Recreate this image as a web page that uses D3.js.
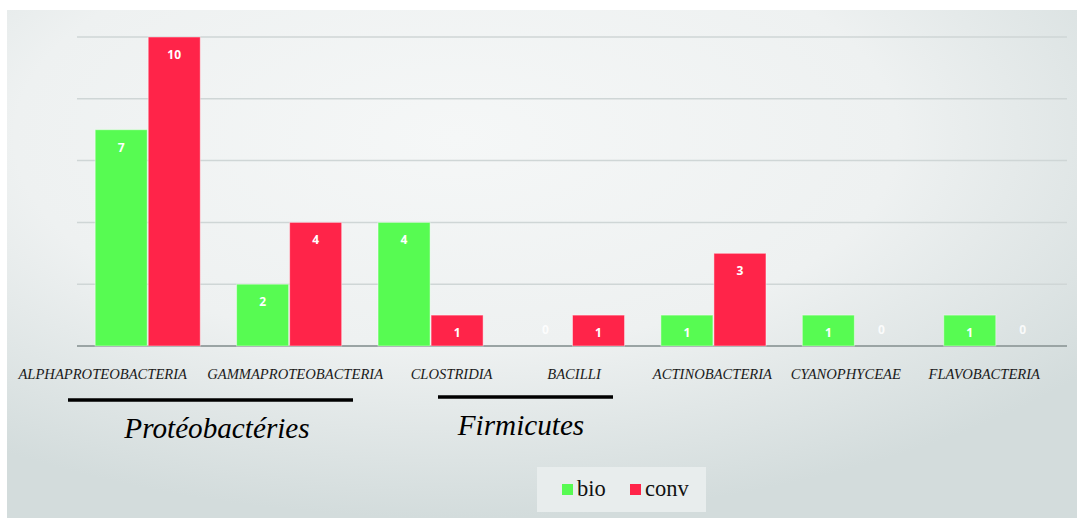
<!DOCTYPE html>
<html><head><meta charset="utf-8">
<script src="https://cdn.jsdelivr.net/npm/d3@7"></script>
<style>body{margin:0;background:#fff}svg{display:block}
.serif{font-family:"Liberation Serif","Times New Roman","DejaVu Serif",serif}</style>
</head><body>
<svg id="c" width="1090" height="518"></svg>
<script>
const categories = ["ALPHAPROTEOBACTERIA","GAMMAPROTEOBACTERIA","CLOSTRIDIA","BACILLI","ACTINOBACTERIA","CYANOPHYCEAE","FLAVOBACTERIA"];
const bio  = [7, 2, 4, 0, 1, 1, 1];
const conv = [10, 4, 1, 1, 3, 0, 0];
const seriesNames = ["bio", "conv"];
const yTicks = [0, 2, 4, 6, 8, 10];
const groups = [{name:"Protéobactéries", from:0, to:1}, {name:"Firmicutes", from:2, to:3}];
// layout-only label nudges (px) to mimic the source placement
const labelNudge = [-45, 6, 21, 2, -1, -9, -12];

const colors = {bio:"#57fb52", conv:"#ff2449"};
const svg = d3.select("#c");
const defs = svg.append("defs");
const g = defs.append("radialGradient").attr("id","bg").attr("cx","42%").attr("cy","25%").attr("r","75%");
g.append("stop").attr("offset","0%").attr("stop-color","#f5f7f7");
g.append("stop").attr("offset","55%").attr("stop-color","#eef1f1");
g.append("stop").attr("offset","100%").attr("stop-color","#d3dcdc");
svg.append("rect").attr("x",7).attr("y",10).attr("width",1070).attr("height",508).attr("fill","url(#bg)");

const x0 = d3.scaleBand().domain(categories).range([77,1067]).paddingInner(0.25).paddingOuter(0.125);
const x1 = d3.scaleBand().domain(seriesNames).range([0, x0.bandwidth()]);
const y = d3.scaleLinear().domain([0,10]).range([346,37]);

// gridlines
svg.append("g").selectAll("line").data(yTicks.filter(t=>t>0)).join("line")
  .attr("x1",77).attr("x2",1067).attr("y1",d=>y(d)).attr("y2",d=>y(d))
  .attr("stroke","#cfd6d6").attr("stroke-width",1.5);

const data = categories.map((c,i)=>({c, vals:[{k:"bio",v:bio[i]},{k:"conv",v:conv[i]}]}));

// baseline
svg.append("line").attr("x1",77).attr("x2",1067).attr("y1",y(0)).attr("y2",y(0))
  .attr("stroke","#9aa4a4").attr("stroke-width",2);

const cg = svg.append("g").selectAll("g").data(data).join("g")
  .attr("transform",d=>`translate(${x0(d.c)},0)`);
cg.selectAll("rect").data(d=>d.vals.filter(e=>e.v>0)).join("rect")
  .attr("x",d=>x1(d.k)+0.5).attr("width",x1.bandwidth()-1)
  .attr("y",d=>y(d.v)).attr("height",d=>y(0)-y(d.v))
  .attr("fill",d=>colors[d.k]).attr("stroke","rgba(255,255,255,0.45)").attr("stroke-width",1);
cg.selectAll("text").data(d=>d.vals).join("text")
  .attr("x",d=>x1(d.k)+x1.bandwidth()/2)
  .attr("y",d=>d.v>0 ? y(d.v)+22 : y(0)-12)
  .attr("text-anchor","middle").attr("fill","#fff").attr("opacity",d=>d.v>0?1:0.85)
  .attr("font-family","Open Sans, sans-serif").attr("font-weight","bold").attr("font-size",12)
  .text(d=>d.v);

// category labels
svg.append("g").selectAll("text").data(categories).join("text")
  .attr("class","serif")
  .attr("x",(d,i)=>x0(d)+x0.bandwidth()/2+labelNudge[i]).attr("y",379)
  .attr("text-anchor","middle")
  .attr("font-style","italic").attr("font-size",14.6).attr("fill","#1a1a1a")
  .text(d=>d);

// group brackets
const grpLines = [{x1:68,x2:353,y:400},{x1:438,x2:613,y:397}];
const grpText = [{x:217,y:438},{x:521,y:435}];
groups.forEach((gr,i)=>{
  svg.append("line").attr("x1",grpLines[i].x1).attr("x2",grpLines[i].x2)
    .attr("y1",grpLines[i].y).attr("y2",grpLines[i].y).attr("stroke","#000").attr("stroke-width",3.5);
  svg.append("text").attr("class","serif").attr("x",grpText[i].x).attr("y",grpText[i].y).attr("text-anchor","middle")
    .attr("font-style","italic").attr("font-size",29.2)
    .attr("fill","#000").text(gr.name);
});

// legend
const lg = svg.append("g");
lg.append("rect").attr("x",537).attr("y",467).attr("width",169).attr("height",45).attr("fill","#e8eded");
const li = lg.selectAll("g").data(seriesNames).join("g")
  .attr("transform",(d,i)=>`translate(${i===0?562:630},484)`);
li.append("rect").attr("width",11).attr("height",11).attr("fill",d=>colors[d]);
li.append("text").attr("class","serif").attr("x",15).attr("y",12)
  .attr("font-size",22.5).attr("fill","#111").text(d=>d);
</script>
</body></html>
